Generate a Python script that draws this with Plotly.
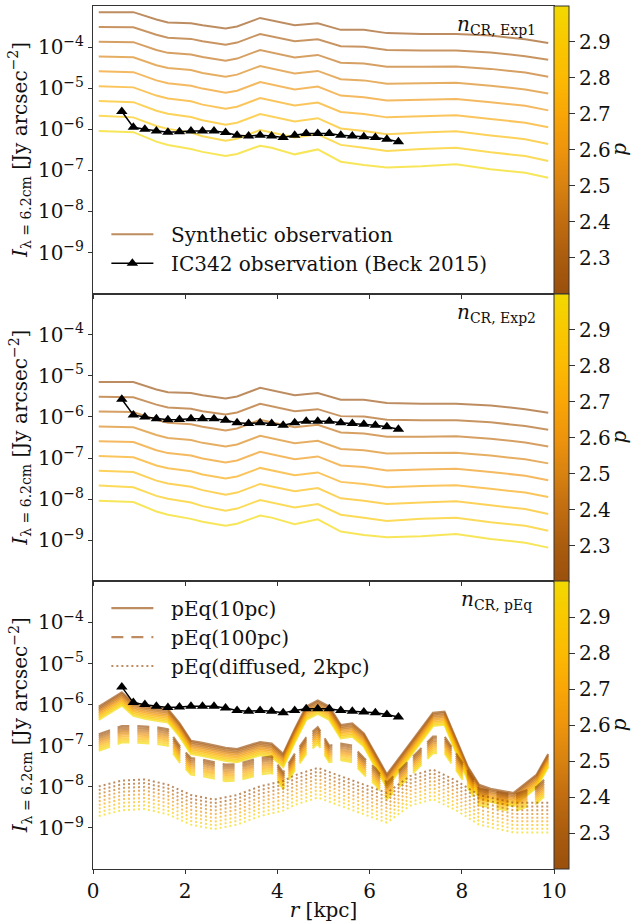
import plotly.graph_objects as go
from plotly.subplots import make_subplots
from plotly.colors import sample_colorscale

# ---------------- data (log10 of intensity in Jy/arcsec^2) ----------------
p_values = [2.2, 2.3, 2.4, 2.5, 2.6, 2.7, 2.8, 2.9, 3.0]

r_exp = [0.125, 0.875, 1.375, 1.625, 2.125, 2.375, 2.875, 3.125, 3.625, 3.875,
         4.375, 4.875, 5.375, 5.875, 6.375, 7.125, 7.875, 8.625, 9.375, 9.875]

exp1_log10I = [
    [-3.15, -3.15, -3.33, -3.40, -3.42, -3.47, -3.55, -3.50, -3.29, -3.35, -3.47, -3.42, -3.58, -3.58, -3.66, -3.68, -3.68, -3.72, -3.81, -3.90],
    [-3.51, -3.52, -3.70, -3.77, -3.80, -3.86, -3.94, -3.89, -3.68, -3.74, -3.86, -3.81, -3.98, -3.99, -4.07, -4.08, -4.08, -4.13, -4.22, -4.31],
    [-3.87, -3.88, -4.07, -4.14, -4.18, -4.24, -4.33, -4.28, -4.07, -4.13, -4.25, -4.19, -4.38, -4.40, -4.48, -4.48, -4.47, -4.53, -4.62, -4.72],
    [-4.23, -4.25, -4.44, -4.51, -4.56, -4.63, -4.72, -4.67, -4.46, -4.52, -4.64, -4.58, -4.78, -4.81, -4.89, -4.88, -4.87, -4.94, -5.03, -5.13],
    [-4.59, -4.61, -4.81, -4.88, -4.94, -5.01, -5.11, -5.06, -4.85, -4.91, -5.03, -4.96, -5.18, -5.22, -5.30, -5.28, -5.26, -5.34, -5.43, -5.54],
    [-4.95, -4.98, -5.18, -5.25, -5.32, -5.40, -5.50, -5.45, -5.24, -5.30, -5.42, -5.35, -5.58, -5.63, -5.71, -5.68, -5.66, -5.75, -5.84, -5.95],
    [-5.31, -5.34, -5.55, -5.62, -5.70, -5.78, -5.89, -5.84, -5.63, -5.69, -5.81, -5.73, -5.98, -6.04, -6.12, -6.08, -6.05, -6.15, -6.24, -6.36],
    [-5.67, -5.71, -5.92, -5.99, -6.08, -6.17, -6.28, -6.23, -6.02, -6.08, -6.20, -6.12, -6.38, -6.45, -6.53, -6.48, -6.45, -6.56, -6.65, -6.77],
    [-6.04, -6.07, -6.30, -6.38, -6.48, -6.55, -6.65, -6.60, -6.40, -6.45, -6.61, -6.49, -6.79, -6.87, -6.93, -6.90, -6.85, -6.97, -7.06, -7.18],
]

exp2_log10I = [
    [-5.15, -5.15, -5.33, -5.40, -5.42, -5.47, -5.55, -5.50, -5.29, -5.35, -5.47, -5.42, -5.58, -5.58, -5.66, -5.68, -5.68, -5.72, -5.81, -5.90],
    [-5.51, -5.52, -5.70, -5.77, -5.80, -5.86, -5.94, -5.89, -5.68, -5.74, -5.86, -5.81, -5.98, -5.99, -6.07, -6.08, -6.08, -6.13, -6.22, -6.31],
    [-5.87, -5.88, -6.07, -6.14, -6.18, -6.24, -6.33, -6.28, -6.07, -6.13, -6.25, -6.19, -6.38, -6.40, -6.48, -6.48, -6.47, -6.53, -6.62, -6.72],
    [-6.23, -6.25, -6.44, -6.51, -6.56, -6.63, -6.72, -6.67, -6.46, -6.52, -6.64, -6.58, -6.78, -6.81, -6.89, -6.88, -6.87, -6.94, -7.03, -7.13],
    [-6.59, -6.61, -6.81, -6.88, -6.94, -7.01, -7.11, -7.06, -6.85, -6.91, -7.03, -6.96, -7.18, -7.22, -7.30, -7.28, -7.26, -7.34, -7.43, -7.54],
    [-6.95, -6.98, -7.18, -7.25, -7.32, -7.40, -7.50, -7.45, -7.24, -7.30, -7.42, -7.35, -7.58, -7.63, -7.71, -7.68, -7.66, -7.75, -7.84, -7.95],
    [-7.31, -7.34, -7.55, -7.62, -7.70, -7.78, -7.89, -7.84, -7.63, -7.69, -7.81, -7.73, -7.98, -8.04, -8.12, -8.08, -8.05, -8.15, -8.24, -8.36],
    [-7.67, -7.71, -7.92, -7.99, -8.08, -8.17, -8.28, -8.23, -8.02, -8.08, -8.20, -8.12, -8.38, -8.45, -8.53, -8.48, -8.45, -8.56, -8.65, -8.77],
    [-8.04, -8.07, -8.30, -8.38, -8.48, -8.55, -8.65, -8.60, -8.40, -8.45, -8.61, -8.49, -8.79, -8.87, -8.93, -8.90, -8.85, -8.97, -9.06, -9.18],
]

r_pEq10 = [0.125, 0.375, 0.625, 0.875, 1.125, 1.375, 1.625, 1.875, 2.125, 2.375, 2.875,
           3.125, 3.625, 3.875, 4.125, 4.375, 4.625, 4.875, 5.125, 5.375, 5.625, 5.875,
           6.375, 7.375, 7.625, 8.125, 8.375, 8.625, 9.125, 9.625, 9.875]
pEq10_log10I = [
    [-6.05, -5.88, -5.70, -5.95, -6.02, -6.07, -6.11, -6.45, -6.88, -6.93, -7.05, -7.08, -6.91, -6.95, -7.20, -6.60, -6.05, -5.90, -6.05, -6.50, -6.46, -6.70, -7.70, -6.20, -6.17, -7.50, -7.95, -8.05, -8.15, -7.70, -7.20],
    [-6.09, -5.92, -5.74, -5.99, -6.06, -6.11, -6.15, -6.49, -6.92, -6.97, -7.09, -7.12, -6.95, -6.99, -7.24, -6.64, -6.09, -5.94, -6.09, -6.54, -6.50, -6.74, -7.74, -6.24, -6.21, -7.54, -7.99, -8.09, -8.19, -7.74, -7.24],
    [-6.13, -5.96, -5.78, -6.03, -6.10, -6.15, -6.19, -6.53, -6.96, -7.01, -7.13, -7.16, -6.99, -7.03, -7.28, -6.68, -6.13, -5.98, -6.13, -6.58, -6.54, -6.78, -7.78, -6.28, -6.25, -7.58, -8.03, -8.13, -8.23, -7.78, -7.28],
    [-6.17, -6.00, -5.82, -6.07, -6.14, -6.19, -6.23, -6.57, -7.00, -7.05, -7.17, -7.20, -7.03, -7.07, -7.32, -6.72, -6.17, -6.02, -6.17, -6.62, -6.58, -6.82, -7.82, -6.32, -6.29, -7.62, -8.07, -8.17, -8.27, -7.82, -7.32],
    [-6.21, -6.04, -5.86, -6.11, -6.18, -6.23, -6.27, -6.61, -7.04, -7.09, -7.21, -7.24, -7.07, -7.11, -7.36, -6.76, -6.21, -6.06, -6.21, -6.66, -6.62, -6.86, -7.86, -6.36, -6.33, -7.66, -8.11, -8.21, -8.31, -7.86, -7.36],
    [-6.25, -6.08, -5.90, -6.15, -6.22, -6.27, -6.31, -6.65, -7.08, -7.13, -7.25, -7.28, -7.11, -7.15, -7.40, -6.80, -6.25, -6.10, -6.25, -6.70, -6.66, -6.90, -7.90, -6.40, -6.37, -7.70, -8.15, -8.25, -8.35, -7.90, -7.40],
    [-6.29, -6.12, -5.94, -6.19, -6.26, -6.31, -6.35, -6.69, -7.12, -7.17, -7.29, -7.32, -7.15, -7.19, -7.44, -6.84, -6.29, -6.14, -6.29, -6.74, -6.70, -6.94, -7.94, -6.44, -6.41, -7.74, -8.19, -8.29, -8.39, -7.94, -7.44],
    [-6.33, -6.16, -5.98, -6.23, -6.30, -6.35, -6.39, -6.73, -7.16, -7.21, -7.33, -7.36, -7.19, -7.23, -7.48, -6.88, -6.33, -6.18, -6.33, -6.78, -6.74, -6.98, -7.98, -6.48, -6.45, -7.78, -8.23, -8.33, -8.43, -7.98, -7.48],
    [-6.37, -6.20, -6.02, -6.27, -6.34, -6.39, -6.43, -6.77, -7.20, -7.25, -7.37, -7.40, -7.23, -7.27, -7.52, -6.92, -6.37, -6.22, -6.37, -6.82, -6.78, -7.02, -8.02, -6.52, -6.49, -7.82, -8.27, -8.37, -8.47, -8.02, -7.52],
]

r_pEq100 = [0.125, 0.625, 0.875, 1.375, 1.625, 1.875, 2.125, 2.375, 2.875, 3.125,
            3.625, 3.875, 4.125, 4.375, 4.625, 4.875, 5.125, 5.375, 5.625, 5.875,
            6.125, 6.375, 7.375, 7.625, 8.125, 8.375, 9.125, 9.625, 9.875]
pEq100_log10I = [
    [-6.72, -6.52, -6.52, -6.55, -6.60, -7.00, -7.30, -7.34, -7.46, -7.45, -7.30, -7.26, -7.65, -7.20, -6.80, -6.55, -7.00, -6.95, -7.00, -7.30, -7.55, -7.90, -6.78, -6.78, -7.60, -8.05, -8.20, -8.00, -7.74],
    [-6.77, -6.57, -6.57, -6.60, -6.65, -7.05, -7.35, -7.39, -7.51, -7.50, -7.35, -7.31, -7.70, -7.25, -6.85, -6.60, -7.05, -7.00, -7.05, -7.35, -7.60, -7.95, -6.83, -6.83, -7.65, -8.10, -8.25, -8.05, -7.79],
    [-6.82, -6.62, -6.62, -6.65, -6.70, -7.10, -7.40, -7.44, -7.56, -7.55, -7.40, -7.36, -7.75, -7.30, -6.90, -6.65, -7.10, -7.05, -7.10, -7.40, -7.65, -8.00, -6.88, -6.88, -7.70, -8.15, -8.30, -8.10, -7.84],
    [-6.87, -6.67, -6.67, -6.70, -6.75, -7.15, -7.45, -7.49, -7.61, -7.60, -7.45, -7.41, -7.80, -7.35, -6.95, -6.70, -7.15, -7.10, -7.15, -7.45, -7.70, -8.05, -6.93, -6.93, -7.75, -8.20, -8.35, -8.15, -7.89],
    [-6.92, -6.72, -6.72, -6.75, -6.80, -7.20, -7.50, -7.54, -7.66, -7.65, -7.50, -7.46, -7.85, -7.40, -7.00, -6.75, -7.20, -7.15, -7.20, -7.50, -7.75, -8.10, -6.98, -6.98, -7.80, -8.25, -8.40, -8.20, -7.94],
    [-6.97, -6.77, -6.77, -6.80, -6.85, -7.25, -7.55, -7.59, -7.71, -7.70, -7.55, -7.51, -7.90, -7.45, -7.05, -6.80, -7.25, -7.20, -7.25, -7.55, -7.80, -8.15, -7.03, -7.03, -7.85, -8.30, -8.45, -8.25, -7.99],
    [-7.02, -6.82, -6.82, -6.85, -6.90, -7.30, -7.60, -7.64, -7.76, -7.75, -7.60, -7.56, -7.95, -7.50, -7.10, -6.85, -7.30, -7.25, -7.30, -7.60, -7.85, -8.20, -7.08, -7.08, -7.90, -8.35, -8.50, -8.30, -8.04],
    [-7.07, -6.87, -6.87, -6.90, -6.95, -7.35, -7.65, -7.69, -7.81, -7.80, -7.65, -7.61, -8.00, -7.55, -7.15, -6.90, -7.35, -7.30, -7.35, -7.65, -7.90, -8.25, -7.13, -7.13, -7.95, -8.40, -8.55, -8.35, -8.09],
    [-7.12, -6.92, -6.92, -6.95, -7.00, -7.40, -7.70, -7.74, -7.86, -7.85, -7.70, -7.66, -8.05, -7.60, -7.20, -6.95, -7.40, -7.35, -7.40, -7.70, -7.95, -8.30, -7.18, -7.18, -8.00, -8.45, -8.60, -8.40, -8.14],
]

r_pEqdiff = [0.125, 0.625, 1.125, 1.625, 2.125, 2.625, 3.125, 3.625, 4.125, 4.375,
             4.875, 5.375, 5.875, 6.375, 6.875, 7.375, 7.875, 8.375, 9.125, 9.875]
pEqdiff_log10I = [
    [-7.99, -7.85, -7.82, -7.95, -8.20, -8.31, -8.20, -7.99, -7.86, -7.72, -7.54, -7.74, -7.94, -8.15, -7.74, -7.58, -7.85, -8.20, -8.39, -8.39],
    [-8.08, -7.94, -7.91, -8.04, -8.29, -8.40, -8.29, -8.08, -7.95, -7.81, -7.63, -7.83, -8.03, -8.24, -7.83, -7.67, -7.94, -8.29, -8.48, -8.48],
    [-8.17, -8.03, -8.00, -8.13, -8.38, -8.49, -8.38, -8.17, -8.04, -7.90, -7.72, -7.92, -8.12, -8.33, -7.92, -7.76, -8.03, -8.38, -8.57, -8.57],
    [-8.26, -8.12, -8.09, -8.22, -8.47, -8.58, -8.47, -8.26, -8.13, -7.99, -7.81, -8.01, -8.21, -8.42, -8.01, -7.85, -8.12, -8.47, -8.66, -8.66],
    [-8.35, -8.21, -8.18, -8.31, -8.56, -8.67, -8.56, -8.35, -8.22, -8.08, -7.90, -8.10, -8.30, -8.51, -8.10, -7.94, -8.21, -8.56, -8.75, -8.75],
    [-8.44, -8.30, -8.27, -8.40, -8.65, -8.76, -8.65, -8.44, -8.31, -8.17, -7.99, -8.19, -8.39, -8.60, -8.19, -8.03, -8.30, -8.65, -8.84, -8.84],
    [-8.53, -8.39, -8.36, -8.49, -8.74, -8.85, -8.74, -8.53, -8.40, -8.26, -8.08, -8.28, -8.48, -8.69, -8.28, -8.12, -8.39, -8.74, -8.93, -8.93],
    [-8.62, -8.48, -8.45, -8.58, -8.83, -8.94, -8.83, -8.62, -8.49, -8.35, -8.17, -8.37, -8.57, -8.78, -8.37, -8.21, -8.48, -8.83, -9.02, -9.02],
    [-8.71, -8.57, -8.54, -8.67, -8.92, -9.03, -8.92, -8.71, -8.58, -8.44, -8.26, -8.46, -8.66, -8.87, -8.46, -8.30, -8.57, -8.92, -9.11, -9.11],
]

r_obs = [0.625, 0.875, 1.125, 1.375, 1.625, 1.875, 2.125, 2.375, 2.625, 2.875, 3.125, 3.375, 3.625,
         3.875, 4.125, 4.375, 4.625, 4.875, 5.125, 5.375, 5.625, 5.875, 6.125, 6.375, 6.625]
I_obs = [2.7e-6, 1.12e-6, 1.0e-6, 9.1e-7, 8.5e-7, 8.7e-7, 9.1e-7, 9.1e-7, 9.1e-7, 8.3e-7, 7.2e-7, 6.9e-7, 7.2e-7,
         6.9e-7, 6.3e-7, 7.2e-7, 7.9e-7, 7.9e-7, 7.9e-7, 7.2e-7, 6.9e-7, 6.6e-7, 6.3e-7, 5.75e-7, 5.0e-7]

ytick_vals = [1e-9, 1e-8, 1e-7, 1e-6, 1e-5, 1e-4]
ytick_text = ["10<sup>−9</sup>", "10<sup>−8</sup>", "10<sup>−7</sup>", "10<sup>−6</sup>", "10<sup>−5</sup>", "10<sup>−4</sup>"]
cbar_ticks = [2.3, 2.4, 2.5, 2.6, 2.7, 2.8, 2.9]
panel_labels = ["<i>n</i><sub>CR, Exp1</sub>", "<i>n</i><sub>CR, Exp2</sub>", "<i>n</i><sub>CR, pEq</sub>"]

# ---------------- style ----------------
FONT = "DejaVu Serif"
FS = 20
cscale = [[0.0, 'rgb(154,80,12)'], [0.125, 'rgb(170,92,14)'], [0.25, 'rgb(192,108,16)'],
          [0.375, 'rgb(216,130,16)'], [0.5, 'rgb(238,148,12)'], [0.625, 'rgb(249,166,6)'],
          [0.75, 'rgb(252,186,2)'], [0.875, 'rgb(249,200,0)'], [1.0, 'rgb(242,217,0)']]
PMIN, PMAX = 2.2, 3.0
NB = "\u00a0\u00a0"


def pcolor(p, alpha):
    c = sample_colorscale(cscale, [(p - PMIN) / (PMAX - PMIN)])[0]
    vals = c[c.index('(') + 1:c.index(')')].split(',')
    r, g, b = [int(round(float(v))) for v in vals]
    return f'rgba({r},{g},{b},{alpha})'


fig = make_subplots(rows=3, cols=1, shared_xaxes=True, vertical_spacing=0)

ALPHA = 0.65

# panel 1 & 2 synthetic lines
for row, data in ((1, exp1_log10I), (2, exp2_log10I)):
    for i, p in enumerate(p_values):
        fig.add_trace(go.Scatter(
            x=r_exp, y=[10 ** v for v in data[i]], mode='lines',
            line=dict(color=pcolor(p, ALPHA), width=2),
            name=NB + 'Synthetic observation', legend='legend',
            showlegend=(row == 1 and i == 0), hoverinfo='skip'), row=row, col=1)

# panel 3 bundles
bundles = [
    (r_pEq10, pEq10_log10I, 'solid', 'pEq(10pc)', 2.2),
    (r_pEq100, pEq100_log10I, '12px,8px', 'pEq(100pc)', 2.2),
    (r_pEqdiff, pEqdiff_log10I, '2px,3px', 'pEq(diffused, 2kpc)', 2.0),
]
for rr, data, dash, name, lw in bundles:
    for i, p in enumerate(p_values):
        fig.add_trace(go.Scatter(
            x=rr, y=[10 ** v for v in data[i]], mode='lines',
            line=dict(color=pcolor(p, ALPHA), width=lw, dash=dash),
            name=NB + name, legend='legend2', showlegend=(i == 0), hoverinfo='skip'),
            row=3, col=1)

# observations
for row in (1, 2, 3):
    fig.add_trace(go.Scatter(
        x=r_obs, y=I_obs, mode='lines+markers',
        line=dict(color='black', width=1.5),
        marker=dict(symbol='triangle-up', size=10, color='black'),
        name=NB + 'IC342 observation (Beck 2015)', legend='legend',
        showlegend=(row == 1), hoverinfo='skip'), row=row, col=1)

# colorbars (one per panel)
centers = [5 / 6, 1 / 2, 1 / 6]
for row in (1, 2, 3):
    fig.add_trace(go.Scatter(
        x=[-50], y=[1e-20], mode='markers',
        marker=dict(color=[2.6], colorscale=cscale, cmin=PMIN, cmax=PMAX, showscale=True,
                    colorbar=dict(x=1.0, xanchor='left', xpad=0, thickness=15,
                                  lenmode='fraction', len=1 / 3, y=centers[row - 1],
                                  yanchor='middle', ypad=0, outlinecolor='#333', outlinewidth=1,
                                  tickvals=cbar_ticks, ticks='outside', ticklen=6,
                                  tickcolor='#333', tickfont=dict(family=FONT, size=FS, color='#111'))),
        showlegend=False, hoverinfo='skip'), row=row, col=1)

for row in (1, 2, 3):
    fig.update_yaxes(type='log', range=[-10, -3], tickvals=ytick_vals, ticktext=ytick_text,
                     ticks='outside', ticklen=4, tickcolor='#333', showgrid=False, zeroline=False,
                     showline=True, linecolor='#333', linewidth=1, mirror=True,
                     tickfont=dict(family=FONT, size=FS, color='#111'), row=row, col=1)
    fig.update_xaxes(range=[0, 10], dtick=2, ticks='outside', ticklen=4, tickcolor='#333',
                     showgrid=False, zeroline=False, showline=True, linecolor='#333',
                     linewidth=1, mirror=True,
                     tickfont=dict(family=FONT, size=FS, color='#111'), row=row, col=1)

fig.update_xaxes(title=dict(text='<i>r</i> [kpc]', font=dict(family=FONT, size=FS, color='#111'),
                            standoff=2), row=3, col=1)

annotations = []
for k, lab in enumerate(panel_labels):
    ytop = 1 - k / 3
    annotations.append(dict(text=lab, xref='paper', yref='paper', x=0.875, y=ytop - 0.022,
                            xanchor='center', yanchor='middle', showarrow=False,
                            font=dict(family=FONT, size=FS, color='#111')))
    annotations.append(dict(text='<i>I</i><sub>λ = 6.2cm</sub> [Jy arcsec<sup>−2</sup>]',
                            xref='paper', yref='paper', x=-0.158, y=ytop - 1 / 6,
                            xanchor='center', yanchor='middle', textangle=-90, showarrow=False,
                            font=dict(family=FONT, size=FS, color='#111')))
    annotations.append(dict(text='<i>p</i>', xref='paper', yref='paper', x=1.141, y=ytop - 1 / 6,
                            xanchor='center', yanchor='middle', textangle=-90, showarrow=False,
                            font=dict(family=FONT, size=FS, color='#111')))

fig.update_layout(
    width=634, height=922, margin=dict(l=93, r=80, t=6, b=53, autoexpand=False),
    paper_bgcolor='white', plot_bgcolor='white',
    font=dict(family=FONT, size=FS, color='#111'),
    annotations=annotations,
    legend=dict(x=0.029, y=0.758, xanchor='left', yanchor='top', bgcolor='rgba(0,0,0,0)',
                itemwidth=42, font=dict(family=FONT, size=FS, color='#111'),
                tracegroupgap=0, traceorder='normal'),
    legend2=dict(x=0.029, y=0.325, xanchor='left', yanchor='top', bgcolor='rgba(0,0,0,0)',
                 itemwidth=42, font=dict(family=FONT, size=FS, color='#111'),
                 tracegroupgap=0, traceorder='normal'),
)

fig.write_html("out.html", config={'displayModeBar': False},
               post_script="document.body.style.margin='0px';document.body.style.overflow='hidden';")
